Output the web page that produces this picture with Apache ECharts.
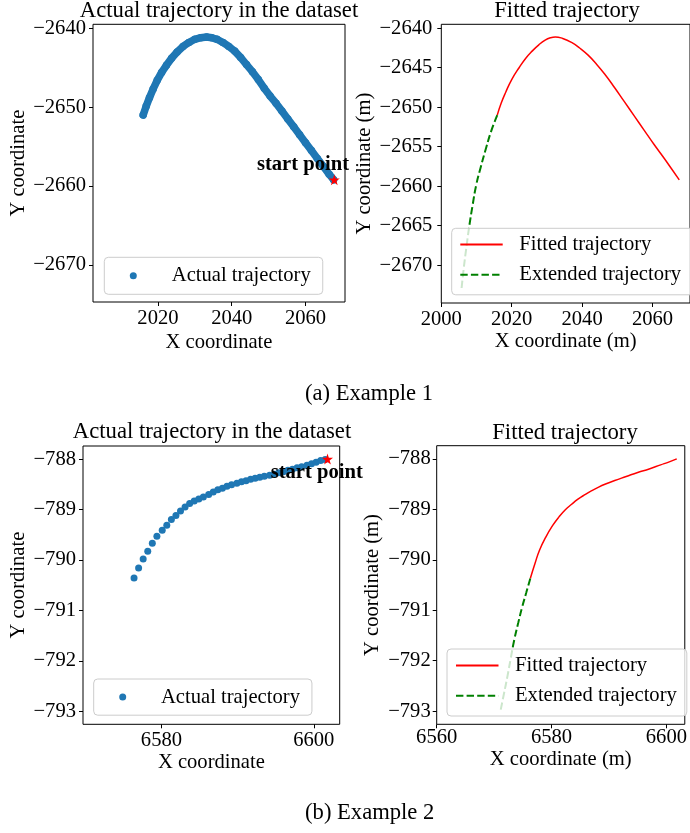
<!DOCTYPE html>
<html>
<head>
<meta charset="utf-8">
<script src="https://cdn.jsdelivr.net/npm/echarts@6/dist/echarts.min.js"></script>
<style>html,body{margin:0;padding:0;background:#fff}#c{width:690px;height:833px}</style>
</head>
<body>
<div id="c"></div>
<script>
// ---------- Example 1 data ----------
const actual1X = [2016.0, 2016.8, 2017.7, 2018.7, 2019.8, 2021.0, 2022.3, 2023.7, 2025.2, 2026.8, 2028.4, 2030.0, 2031.6, 2033.2, 2034.6, 2036.0, 2037.6, 2039.2, 2040.8, 2042.4, 2044.0, 2045.6, 2047.2, 2048.8, 2050.4, 2052.0, 2053.6, 2055.2, 2056.8, 2058.4, 2060.0, 2061.6, 2063.2, 2064.8, 2066.4, 2067.6];
const actual1Y = [-2651.0, -2649.9, -2648.8, -2647.7, -2646.6, -2645.6, -2644.7, -2643.8, -2643.0, -2642.3, -2641.8, -2641.4, -2641.2, -2641.1, -2641.2, -2641.4, -2641.8, -2642.3, -2642.9, -2643.7, -2644.6, -2645.5, -2646.5, -2647.6, -2648.6, -2649.5, -2650.5, -2651.5, -2652.5, -2653.5, -2654.5, -2655.5, -2656.5, -2657.5, -2658.5, -2659.2];
const start1 = [2067.8, -2659.2];
const fitted1X = [2015.9, 2017.0, 2018.3, 2020.0, 2022.1, 2024.0, 2025.8, 2027.7, 2029.5, 2031.0, 2032.4, 2034.5, 2037.0, 2039.3, 2041.7, 2044.0, 2046.4, 2049.2, 2052.0, 2054.8, 2057.6, 2060.4, 2063.2, 2065.4, 2067.6];
const fitted1Y = [-2651.0, -2649.5, -2648.1, -2646.5, -2645.0, -2643.8, -2642.9, -2642.1, -2641.5, -2641.2, -2641.1, -2641.3, -2641.8, -2642.5, -2643.4, -2644.5, -2645.8, -2647.5, -2649.3, -2651.1, -2652.9, -2654.7, -2656.4, -2657.8, -2659.2];
const extended1X = [2015.9, 2014.2, 2012.7, 2011.2, 2009.9, 2008.9, 2008.0, 2007.2, 2006.4, 2005.7];
const extended1Y = [-2651.0, -2653.0, -2655.2, -2657.6, -2659.9, -2662.4, -2664.9, -2667.5, -2670.3, -2673.2];
const ticks1LX = [2020, 2040, 2060];
const ticks1LY = [-2670, -2660, -2650, -2640];
const ticks1RX = [2000, 2020, 2040, 2060];
const ticks1RY = [-2670, -2665, -2660, -2655, -2650, -2645, -2640];

// ---------- Example 2 data ----------
const actual2X = [6576.4, 6577.0, 6577.6, 6578.2, 6578.8, 6579.4, 6580.1, 6580.7, 6581.3, 6581.9, 6582.5, 6583.1, 6583.7, 6584.3, 6584.9, 6585.5, 6586.2, 6586.8, 6587.4, 6588.0, 6588.6, 6589.2, 6589.9, 6590.5, 6591.1, 6591.7, 6592.3, 6592.9, 6593.5, 6594.2, 6594.8, 6595.4, 6596.0, 6596.6, 6597.2, 6597.8, 6598.4, 6599.1, 6599.7, 6600.3, 6600.9, 6601.5];
const actual2Y = [-790.36, -790.16, -789.98, -789.83, -789.67, -789.53, -789.41, -789.31, -789.20, -789.12, -789.03, -788.95, -788.88, -788.83, -788.79, -788.75, -788.70, -788.65, -788.61, -788.58, -788.54, -788.51, -788.48, -788.45, -788.43, -788.40, -788.38, -788.36, -788.34, -788.32, -788.30, -788.27, -788.25, -788.22, -788.20, -788.17, -788.15, -788.12, -788.09, -788.06, -788.03, -788.01];
const start2 = [6601.8, -788.0];
const fitted2X = [6576.3, 6577.1, 6577.9, 6579.0, 6580.2, 6581.3, 6582.4, 6583.5, 6584.6, 6585.8, 6587.0, 6588.2, 6589.4, 6591.0, 6593.0, 6595.0, 6597.0, 6599.0, 6600.5, 6601.8];
const fitted2Y = [-790.37, -790.08, -789.81, -789.55, -789.32, -789.15, -789.01, -788.90, -788.80, -788.71, -788.63, -788.56, -788.50, -788.43, -788.35, -788.27, -788.20, -788.12, -788.06, -788.00];
const extended2X = [6576.3, 6575.6, 6574.9, 6574.2, 6573.5, 6572.9, 6572.3, 6571.7, 6571.1];
const extended2Y = [-790.37, -790.65, -790.93, -791.25, -791.59, -791.95, -792.32, -792.66, -793.0];
const ticks2LX = [6580, 6600];
const ticks2RX = [6560, 6580, 6600];
const ticks2Y = [-793, -792, -791, -790, -789, -788];

// ---------- helpers ----------
const FONT = '"Liberation Serif", "Times New Roman", serif';
const FS = 20.6;      // base font size
const FS_T = 22.7;    // subplot title size
const FS_C = 22.6;    // caption size
const BLUE = '#1f77b4';
const zip = (xs, ys) => xs.map((x, i) => [x, ys[i]]);
const minus = v => String(v).replace('-', '\u2212');
const STAR = 'path://M0,-10L2.245,-3.09L9.511,-3.09L3.633,1.18L5.878,8.09L0,3.82L-5.878,8.09L-3.633,1.18L-9.511,-3.09L-2.245,-3.09Z';

function mkAxis(gi, min, max, ticks, name, nameGap, margin) {
  return {
    type: 'value', gridIndex: gi, min: min, max: max, name: name,
    nameLocation: 'middle', nameGap: nameGap,
    nameTextStyle: { fontFamily: FONT, fontSize: FS, color: '#000' },
    axisLine: { show: false, onZero: false }, splitLine: { show: false },
    axisTick: { show: true, inside: false, length: 4, lineStyle: { color: '#000', width: 1 }, customValues: ticks },
    axisLabel: { show: true, margin: margin, customValues: ticks, formatter: minus, fontFamily: FONT, fontSize: FS, color: '#000' }
  };
}
function legendRich(spacer) {
  return {
    fontFamily: FONT, fontSize: FS, color: '#000', lineHeight: 20,
    rich: { g: { width: spacer, lineHeight: 20, fontSize: FS } }
  };
}
const legBase = {
  orient: 'vertical', selectedMode: false,
  backgroundColor: 'rgba(255,255,255,0.8)', borderColor: '#cccccc', borderWidth: 1, borderRadius: 4,
  formatter: n => '{g| }' + n
};
const titleStyle = (text, size) => ({ text: text, font: size + 'px ' + FONT, fill: '#000', align: 'center', verticalAlign: 'middle' });
const startLabel = off => ({
  show: true, formatter: 'start point', position: 'inside', offset: off,
  fontFamily: FONT, fontWeight: 'bold', fontSize: FS, color: '#000000', opacity: 1, textBorderWidth: 0
});

const option = {
  animation: false,
  backgroundColor: '#ffffff',
  grid: [
    { left: 93, top: 24.3, width: 252, height: 277.7 },
    { left: 441.3, top: 24.3, width: 251.7, height: 278.7 },
    { left: 83, top: 446, width: 256.7, height: 278.3 },
    { left: 436.7, top: 445.7, width: 256.6, height: 278.6 }
  ].map(g => Object.assign({ show: true, borderColor: '#000', borderWidth: 1, backgroundColor: 'transparent', containLabel: false }, g)),
  xAxis: [
    mkAxis(0, 2002.4, 2070.7, ticks1LX, 'X coordinate', 30, 6),
    mkAxis(1, 2000, 2070.65, ticks1RX, 'X coordinate (m)', 27.5, 6),
    mkAxis(2, 6569.7, 6603.4, ticks2LX, 'X coordinate', 28, 6),
    mkAxis(3, 6560, 6603.2, ticks2RX, 'X coordinate (m)', 20, 3)
  ],
  yAxis: [
    mkAxis(0, -2674.7, -2639.5, ticks1LY, 'Y coordinate', 63, 7),
    mkAxis(1, -2674.8, -2639.5, ticks1RY, 'Y coordinate (m)', 66, 9),
    mkAxis(2, -793.26, -787.74, ticks2Y, 'Y coordinate', 54, 7),
    mkAxis(3, -793.26, -787.74, ticks2Y, 'Y coordinate (m)', 54, 6)
  ],
  legend: [
    Object.assign({}, legBase, {
      left: 104.3, top: 257.3, padding: [8, 12, 8, 25.5],
      itemWidth: 7, itemHeight: 7,
      data: [{ name: 'Actual trajectory', icon: 'circle' }],
      textStyle: legendRich(30)
    }),
    Object.assign({}, legBase, {
      left: 451.7, top: 228.3, padding: [5.7, 13, 9.5, 7.6],
      itemWidth: 42.4, itemHeight: 20, itemGap: 9.3,
      itemStyle: { opacity: 0 },
      data: ['Fitted trajectory', 'Extended trajectory'],
      textStyle: legendRich(11.6)
    }),
    Object.assign({}, legBase, {
      left: 93.7, top: 679, padding: [7.6, 12, 7.6, 25.5],
      itemWidth: 7, itemHeight: 7,
      data: [{ name: 'Actual trajectory', icon: 'circle' }],
      textStyle: legendRich(29.8)
    }),
    Object.assign({}, legBase, {
      left: 447, top: 649, padding: [6, 10, 9.7, 8],
      itemWidth: 42.5, itemHeight: 20, itemGap: 9.3,
      itemStyle: { opacity: 0 },
      data: ['Fitted trajectory', 'Extended trajectory'],
      textStyle: legendRich(11.5)
    })
  ],
  series: [
    {
      type: 'line', name: 'Actual trajectory', xAxisIndex: 0, yAxisIndex: 0,
      data: zip(actual1X, actual1Y), symbol: 'circle', symbolSize: 7.5, showSymbol: true, smooth: false,
      itemStyle: { color: BLUE, opacity: 1 }, lineStyle: { color: BLUE, width: 7.5, cap: 'round', join: 'round' },
      silent: true, z: 2
    },
    {
      type: 'scatter', name: 'start1', xAxisIndex: 0, yAxisIndex: 0,
      data: [start1], symbol: STAR, symbolSize: 11, itemStyle: { color: '#ff0000', opacity: 1 }, silent: true, z: 5,
      label: startLabel([-31.3, -15.5])
    },
    {
      type: 'line', name: 'Fitted trajectory', xAxisIndex: 1, yAxisIndex: 1,
      data: zip(fitted1X, fitted1Y), symbol: 'none', smooth: true,
      itemStyle: { color: '#ff0000' }, lineStyle: { color: '#ff0000', width: 1.5 }, silent: true
    },
    {
      type: 'line', name: 'Extended trajectory', xAxisIndex: 1, yAxisIndex: 1,
      data: zip(extended1X, extended1Y), symbol: 'none', smooth: true,
      itemStyle: { color: '#008000' }, lineStyle: { color: '#008000', width: 2, type: [7.4, 3.2] }, silent: true
    },
    {
      type: 'scatter', name: 'Actual trajectory', xAxisIndex: 2, yAxisIndex: 2,
      data: zip(actual2X, actual2Y), symbol: 'circle', symbolSize: 7,
      itemStyle: { color: BLUE, opacity: 1 }, silent: true, z: 2
    },
    {
      type: 'scatter', name: 'start2', xAxisIndex: 2, yAxisIndex: 2,
      data: [start2], symbol: STAR, symbolSize: 11, itemStyle: { color: '#ff0000', opacity: 1 }, silent: true, z: 5,
      label: startLabel([-10.8, 13.7])
    },
    {
      type: 'line', name: 'Fitted trajectory', xAxisIndex: 3, yAxisIndex: 3,
      data: zip(fitted2X, fitted2Y), symbol: 'none', smooth: true,
      itemStyle: { color: '#ff0000' }, lineStyle: { color: '#ff0000', width: 1.5 }, silent: true
    },
    {
      type: 'line', name: 'Extended trajectory', xAxisIndex: 3, yAxisIndex: 3,
      data: zip(extended2X, extended2Y), symbol: 'none', smooth: true,
      itemStyle: { color: '#008000' }, lineStyle: { color: '#008000', width: 2, type: [7.4, 3.2] }, silent: true
    }
  ],
  graphic: [
    { type: 'text', x: 219, y: 10.6, style: titleStyle('Actual trajectory in the dataset', FS_T) },
    { type: 'text', x: 567, y: 10.6, style: titleStyle('Fitted trajectory', FS_T) },
    { type: 'text', x: 212, y: 432.3, style: titleStyle('Actual trajectory in the dataset', FS_T) },
    { type: 'text', x: 565, y: 433.3, style: titleStyle('Fitted trajectory', FS_T) },
    { type: 'text', x: 369, y: 394.1, style: titleStyle('(a) Example 1', FS_C) },
    { type: 'text', x: 369.7, y: 813.4, style: titleStyle('(b) Example 2', FS_C) }
  ]
};

const chart = echarts.init(document.getElementById('c'), null, { renderer: 'canvas' });
chart.setOption(option);
</script>
</body>
</html>
